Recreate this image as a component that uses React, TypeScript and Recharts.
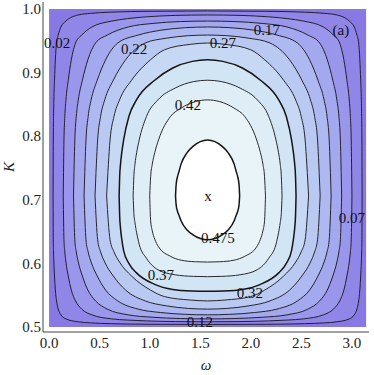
import { ComposedChart, Area, XAxis, YAxis, Scatter, Label } from 'recharts';

// contour points: [omega, K low, K high]
const BG = [[0, 0.5, 1.0], [3.1416, 0.5, 1.0]];

const C1 = [
  [0.04, 0.706, 0.706], [0.0421, 0.637, 0.794], [0.0445, 0.618, 0.831], [0.0476, 0.602, 0.857], [0.0541, 0.58, 0.888],
  [0.0625, 0.558, 0.92], [0.0741, 0.5409, 0.9465], [0.091, 0.528, 0.959], [0.1179, 0.519, 0.9717], [0.1674, 0.5126, 0.981],
  [0.2898, 0.508, 0.9906], [0.4115, 0.5064, 0.9931], [0.6082, 0.5051, 0.995], [1.0, 0.5042, 0.9964], [1.5708, 0.5039, 0.9969],
  [2.1416, 0.5042, 0.9964], [2.5334, 0.5051, 0.995], [2.7301, 0.5064, 0.9931], [2.8518, 0.508, 0.9906], [2.9742, 0.5126, 0.981],
  [3.0237, 0.519, 0.9717], [3.0506, 0.528, 0.959], [3.0675, 0.5409, 0.9465], [3.0791, 0.558, 0.92], [3.0875, 0.58, 0.888],
  [3.094, 0.602, 0.857], [3.0971, 0.618, 0.831], [3.0995, 0.637, 0.794], [3.1016, 0.706, 0.706],
];
const C2 = [
  [0.1405, 0.706, 0.706], [0.1479, 0.637, 0.794], [0.1562, 0.618, 0.831], [0.1674, 0.602, 0.857], [0.1903, 0.58, 0.888],
  [0.2206, 0.558, 0.92], [0.2623, 0.5409, 0.9465], [0.3239, 0.528, 0.959], [0.4245, 0.519, 0.9717], [0.6228, 0.5126, 0.981],
  [0.7754, 0.5108, 0.9848], [0.9675, 0.5094, 0.9877], [1.25, 0.5084, 0.9899], [1.5708, 0.508, 0.9906],
  [1.8916, 0.5084, 0.9899], [2.1741, 0.5094, 0.9877], [2.3662, 0.5108, 0.9848], [2.5188, 0.5126, 0.981], [2.7171, 0.519, 0.9717],
  [2.8177, 0.528, 0.959], [2.8793, 0.5409, 0.9465], [2.921, 0.558, 0.92], [2.9513, 0.58, 0.888], [2.9742, 0.602, 0.857],
  [2.9854, 0.618, 0.831], [2.9937, 0.637, 0.794], [3.0011, 0.706, 0.706],
];
const C3 = [
  [0.2424, 0.706, 0.706], [0.2554, 0.637, 0.794], [0.2699, 0.618, 0.831], [0.2898, 0.602, 0.857], [0.3303, 0.58, 0.888],
  [0.3844, 0.558, 0.92], [0.4606, 0.5409, 0.9465], [0.577, 0.528, 0.959], [0.7838, 0.519, 0.9717], [1.0296, 0.5152, 0.9773],
  [1.3, 0.5132, 0.9802], [1.5708, 0.5126, 0.981],
  [1.8416, 0.5132, 0.9802], [2.112, 0.5152, 0.9773], [2.3578, 0.519, 0.9717], [2.5646, 0.528, 0.959], [2.681, 0.5409, 0.9465],
  [2.7572, 0.558, 0.92], [2.8113, 0.58, 0.888], [2.8518, 0.602, 0.857], [2.8717, 0.618, 0.831], [2.8862, 0.637, 0.794],
  [2.8992, 0.706, 0.706],
];
const C4 = [
  [0.3469, 0.706, 0.706], [0.366, 0.637, 0.794], [0.3873, 0.618, 0.831], [0.4167, 0.602, 0.857], [0.4775, 0.58, 0.888],
  [0.5601, 0.558, 0.92], [0.6809, 0.5409, 0.9465], [0.8832, 0.528, 0.959], [1.1071, 0.5226, 0.9666], [1.35, 0.5198, 0.9706],
  [1.5708, 0.519, 0.9717],
  [1.7916, 0.5198, 0.9706], [2.0345, 0.5226, 0.9666], [2.2584, 0.528, 0.959], [2.4607, 0.5409, 0.9465], [2.5815, 0.558, 0.92],
  [2.6641, 0.58, 0.888], [2.7249, 0.602, 0.857], [2.7543, 0.618, 0.831], [2.7756, 0.637, 0.794], [2.7947, 0.706, 0.706],
];
const C5 = [
  [0.4556, 0.706, 0.706], [0.4815, 0.637, 0.794], [0.5107, 0.618, 0.831], [0.5513, 0.602, 0.857], [0.6367, 0.58, 0.888],
  [0.7581, 0.558, 0.92], [0.9524, 0.5409, 0.9465], [1.1603, 0.5332, 0.954], [1.38, 0.5291, 0.958], [1.5708, 0.528, 0.959],
  [1.7616, 0.5291, 0.958], [1.9813, 0.5332, 0.954], [2.1892, 0.5409, 0.9465], [2.3835, 0.558, 0.92], [2.5049, 0.58, 0.888],
  [2.5903, 0.602, 0.857], [2.6309, 0.618, 0.831], [2.6601, 0.637, 0.794], [2.686, 0.706, 0.706],
];
const C6 = [
  [0.5704, 0.706, 0.706], [0.6045, 0.637, 0.794], [0.6435, 0.618, 0.831], [0.6982, 0.602, 0.857], [0.8178, 0.58, 0.888],
  [1.0043, 0.558, 0.92], [1.1441, 0.5477, 0.9359], [1.4, 0.5423, 0.9444], [1.5708, 0.5409, 0.9465],
  [1.7416, 0.5423, 0.9444], [1.9975, 0.5477, 0.9359], [2.1373, 0.558, 0.92], [2.3238, 0.58, 0.888], [2.4434, 0.602, 0.857],
  [2.4981, 0.618, 0.831], [2.5371, 0.637, 0.794], [2.5712, 0.706, 0.706],
];
const C7 = [
  [0.6944, 0.706, 0.706], [0.6995, 0.675, 0.736], [0.7081, 0.655, 0.756], [0.7205, 0.638, 0.774], [0.739, 0.62, 0.794],
  [0.7908, 0.6, 0.831], [0.8663, 0.585, 0.857], [1.0467, 0.567, 0.888], [1.2263, 0.559, 0.9072], [1.42, 0.5565, 0.9176],
  [1.5708, 0.556, 0.92],
  [1.7216, 0.5565, 0.9176], [1.9153, 0.559, 0.9072], [2.0949, 0.567, 0.888], [2.2753, 0.585, 0.857], [2.3508, 0.6, 0.831],
  [2.4026, 0.62, 0.794], [2.4211, 0.638, 0.774], [2.4335, 0.655, 0.756], [2.4421, 0.675, 0.736], [2.4472, 0.706, 0.706],
];
const C8 = [
  [0.8331, 0.706, 0.706], [0.84, 0.68, 0.736], [0.8513, 0.664, 0.756], [0.8681, 0.648, 0.774], [0.8933, 0.63, 0.794],
  [0.9652, 0.608, 0.831], [1.0782, 0.59, 0.857], [1.249, 0.582, 0.8756], [1.43, 0.5795, 0.8857], [1.5708, 0.579, 0.888],
  [1.7116, 0.5795, 0.8857], [1.8926, 0.582, 0.8756], [2.0634, 0.59, 0.857], [2.1764, 0.608, 0.831], [2.2483, 0.63, 0.794],
  [2.2735, 0.648, 0.774], [2.2903, 0.664, 0.756], [2.3016, 0.68, 0.736], [2.3085, 0.706, 0.706],
];
const C9 = [
  [0.9973, 0.706, 0.706], [1.0066, 0.667, 0.736], [1.0229, 0.651, 0.756], [1.0472, 0.638, 0.774], [1.0845, 0.626, 0.794],
  [1.2036, 0.611, 0.831], [1.3078, 0.605, 0.844], [1.45, 0.6025, 0.8543], [1.5708, 0.602, 0.857],
  [1.6916, 0.6025, 0.8543], [1.8338, 0.605, 0.844], [1.938, 0.611, 0.831], [2.0571, 0.626, 0.794], [2.0944, 0.638, 0.774],
  [2.1187, 0.651, 0.756], [2.135, 0.667, 0.736], [2.1443, 0.706, 0.706],
];
const C10 = [
  [1.2532, 0.706, 0.706], [1.2591, 0.6922, 0.7236], [1.2722, 0.682, 0.736], [1.2866, 0.676, 0.744], [1.3075, 0.667, 0.756],
  [1.3677, 0.6525, 0.774], [1.4265, 0.6448, 0.784], [1.5708, 0.637, 0.794],
  [1.7151, 0.6448, 0.784], [1.7739, 0.6525, 0.774], [1.8341, 0.667, 0.756], [1.855, 0.676, 0.744], [1.8694, 0.682, 0.736],
  [1.8825, 0.6922, 0.7236], [1.8884, 0.706, 0.706],
];

const CONTOURS = [C1, C2, C3, C4, C5, C6, C7, C8, C9, C10];
const FILLS = ['#8f86e8', '#9996ec', '#a3a8ef', '#aeb9f1', '#b9c9f2', '#c6d8f3', '#d2e5f4', '#deedf6', '#e9f4f8', '#ffffff'];
const BG_FILL = '#8878e4';

const X_MAJOR = [0, 0.5, 1, 1.5, 2, 2.5, 3];
const X_MINOR = [0.1, 0.2, 0.3, 0.4, 0.6, 0.7, 0.8, 0.9, 1.1, 1.2, 1.3, 1.4, 1.6, 1.7, 1.8, 1.9, 2.1, 2.2, 2.3, 2.4, 2.6, 2.7, 2.8, 2.9, 3.1];
const Y_MAJOR = [0.5, 0.6, 0.7, 0.8, 0.9, 1.0];
const Y_MINOR = [0.52, 0.54, 0.56, 0.58, 0.62, 0.64, 0.66, 0.68, 0.72, 0.74, 0.76, 0.78, 0.82, 0.84, 0.86, 0.88, 0.92, 0.94, 0.96, 0.98];

const LABELS = [
  { w: 0.079, k: 0.9465, t: '0.02' },
  { w: 0.842, k: 0.937, t: '0.22' },
  { w: 1.723, k: 0.9465, t: '0.27' },
  { w: 2.158, k: 0.967, t: '0.17' },
  { w: 2.891, k: 0.967, t: '(a)' },
  { w: 1.376, k: 0.849, t: '0.42' },
  { w: 1.574, k: 0.706, t: 'x' },
  { w: 1.673, k: 0.64, t: '0.475' },
  { w: 3.0, k: 0.671, t: '0.07' },
  { w: 1.109, k: 0.582, t: '0.37' },
  { w: 1.99, k: 0.553, t: '0.32' },
  { w: 1.495, k: 0.508, t: '0.12' },
];

const XD = [-0.06, 3.17];
const YD = [0.492, 1.011];
const FRAME = '#444';
const FONT = 'Liberation Serif';
const blank = () => '';

const rows = (pts: number[][]) => pts.map(([w, lo, hi]) => ({ w, k: [lo, hi] }));

const TextMark = (props: any) => (
  <text x={props.cx} y={props.cy} textAnchor="middle" dominantBaseline="central"
    fontFamily={FONT} fontSize={15} fill="#111">
    {props.payload.t}
  </text>
);

export default function App() {
  return (
    <div style={{ position: 'absolute', left: 0, top: 0, width: 374, height: 375, background: '#fff' }}>
      <ComposedChart width={374} height={375} margin={{ top: 2, right: 5, bottom: 3, left: 8 }}>
        <XAxis xAxisId="x" dataKey="w" type="number" domain={XD} allowDataOverflow ticks={X_MAJOR} interval={0}
          tickFormatter={(v: number) => v.toFixed(1)} tickLine={false} tickSize={0} tickMargin={5} height={40}
          axisLine={{ stroke: FRAME }} tick={{ fill: '#222', fontSize: 15, fontFamily: FONT }}>
          <Label value="ω" position="insideBottom" offset={2}
            style={{ fontFamily: FONT, fontStyle: 'italic', fontSize: 15, fill: '#222' }} />
        </XAxis>
        <XAxis xAxisId="xb1" type="number" orientation="bottom" mirror height={0} domain={XD} allowDataOverflow ticks={X_MAJOR}
          interval={0} tickSize={5} tickFormatter={blank} axisLine={false} tickLine={{ stroke: FRAME }} />
        <XAxis xAxisId="xb2" type="number" orientation="bottom" mirror height={0} domain={XD} allowDataOverflow ticks={X_MINOR}
          interval={0} tickSize={2.5} tickFormatter={blank} axisLine={false} tickLine={{ stroke: FRAME }} />
        <XAxis xAxisId="xt1" type="number" orientation="top" mirror height={0} domain={XD} allowDataOverflow ticks={X_MAJOR}
          interval={0} tickSize={5} tickFormatter={blank} axisLine={{ stroke: FRAME }} tickLine={{ stroke: FRAME }} />
        <XAxis xAxisId="xt2" type="number" orientation="top" mirror height={0} domain={XD} allowDataOverflow ticks={X_MINOR}
          interval={0} tickSize={2.5} tickFormatter={blank} axisLine={false} tickLine={{ stroke: FRAME }} />

        <YAxis yAxisId="y" type="number" domain={YD} allowDataOverflow ticks={Y_MAJOR} interval={0} width={35}
          tickFormatter={(v: number) => v.toFixed(1)} tickLine={false} tickSize={0} tickMargin={2}
          axisLine={{ stroke: FRAME }} tick={{ fill: '#222', fontSize: 15, fontFamily: FONT }}>
          <Label value="K" angle={-90} position="center" dx={-17}
            style={{ fontFamily: FONT, fontStyle: 'italic', fontSize: 15, fill: '#222' }} />
        </YAxis>
        <YAxis yAxisId="yl1" type="number" orientation="left" mirror width={0} domain={YD} allowDataOverflow ticks={Y_MAJOR}
          interval={0} tickSize={5} tickFormatter={blank} axisLine={false} tickLine={{ stroke: FRAME }} />
        <YAxis yAxisId="yl2" type="number" orientation="left" mirror width={0} domain={YD} allowDataOverflow ticks={Y_MINOR}
          interval={0} tickSize={2.5} tickFormatter={blank} axisLine={false} tickLine={{ stroke: FRAME }} />
        <YAxis yAxisId="yr1" type="number" orientation="right" mirror width={0} domain={YD} allowDataOverflow ticks={Y_MAJOR}
          interval={0} tickSize={5} tickFormatter={blank} axisLine={{ stroke: FRAME }} tickLine={{ stroke: FRAME }} />
        <YAxis yAxisId="yr2" type="number" orientation="right" mirror width={0} domain={YD} allowDataOverflow ticks={Y_MINOR}
          interval={0} tickSize={2.5} tickFormatter={blank} axisLine={false} tickLine={{ stroke: FRAME }} />

        <Area xAxisId="x" yAxisId="y" data={rows(BG)} dataKey="k" type="linear" stroke="none"
          fill={BG_FILL} fillOpacity={1} isAnimationActive={false} dot={false} activeDot={false} />
        {CONTOURS.map((c, i) => (
          <Area key={i} xAxisId="x" yAxisId="y" data={rows(c)} dataKey="k" type="monotone"
            stroke="#151515" strokeWidth={i === 6 || i === 9 ? 1.5 : 0.9} fill={FILLS[i]} fillOpacity={1}
            isAnimationActive={false} dot={false} activeDot={false} />
        ))}
        <Scatter xAxisId="x" yAxisId="y" data={LABELS} dataKey="k" shape={TextMark} isAnimationActive={false} />
      </ComposedChart>
    </div>
  );
}
